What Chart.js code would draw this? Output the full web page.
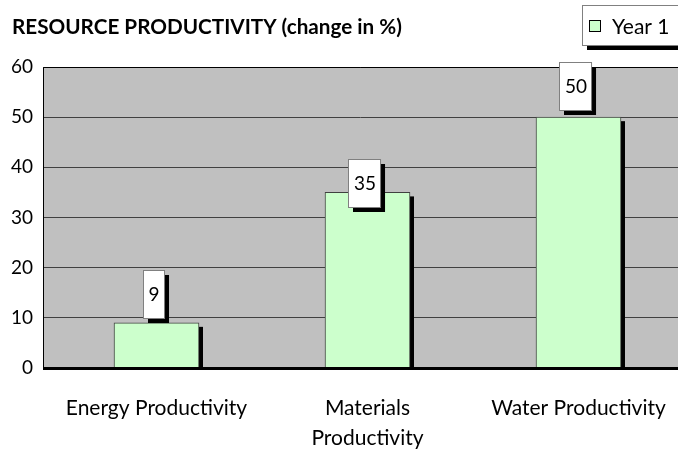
<!DOCTYPE html>
<html>
<head>
<meta charset="utf-8">
<script src="https://cdn.jsdelivr.net/npm/chart.js@4.4.1/dist/chart.umd.min.js"></script>
<style>
html,body{margin:0;padding:0;background:#fff;overflow:hidden;}
#wrap{width:678px;height:451px;position:relative;}
</style>
</head>
<body>
<div id="wrap"><canvas id="c" width="678" height="451"></canvas></div>
<script>
const title = "RESOURCE PRODUCTIVITY (change in %)";
const categories = ["Energy Productivity", ["Materials", "Productivity"], "Water Productivity"];
const seriesName = "Year 1";
const seriesValues = [9, 35, 50];
const yTicks = [0, 10, 20, 30, 40, 50, 60];

const FONT = "Lato, 'Open Sans', sans-serif";

const decor = {
  id: 'decor',
  beforeDraw(chart) {
    const {ctx, chartArea: a} = chart;
    ctx.save();
    ctx.fillStyle = '#c0c0c0';
    ctx.fillRect(a.left, a.top, a.right - a.left, a.bottom - a.top);
    ctx.restore();
  },
  beforeDatasetsDraw(chart) {
    const {ctx} = chart;
    const meta = chart.getDatasetMeta(0);
    ctx.save();
    ctx.fillStyle = '#000';
    meta.data.forEach(bar => {
      const p = bar.getProps(['x','y','base','width'], true);
      ctx.fillRect(p.x - p.width/2 + 4, p.y + 4, p.width, p.base - p.y - 4);
    });
    ctx.restore();
  },
  afterDatasetsDraw(chart) {
    const {ctx, chartArea: a} = chart;
    ctx.save();
    ctx.strokeStyle = '#000';
    ctx.lineWidth = 1;
    ctx.beginPath();
    ctx.moveTo(a.left + 0.5, a.bottom);
    ctx.lineTo(a.left + 0.5, a.top + 0.5);
    ctx.lineTo(a.right, a.top + 0.5);
    ctx.stroke();
    ctx.lineWidth = 3;
    ctx.beginPath();
    ctx.moveTo(a.left, a.bottom + 0.5);
    ctx.lineTo(a.right, a.bottom + 0.5);
    ctx.stroke();

    const meta = chart.getDatasetMeta(0);
    const offs = chart.options.plugins.decor.labelOffsets;
    ctx.font = "19px " + FONT;
    ctx.textAlign = 'center';
    ctx.textBaseline = 'middle';
    meta.data.forEach((bar, i) => {
      const p = bar.getProps(['x','y'], true);
      const txt = String(seriesValues[i]);
      const w = ctx.measureText(txt).width + 10;
      const h = 48;
      const cx = p.x - 3;
      const bottom = p.y - offs[i];
      const x0 = Math.round(cx - w/2), y0 = Math.round(bottom - h);
      ctx.fillStyle = '#000';
      ctx.fillRect(x0 + 5, y0 + 5, w, h);
      ctx.fillStyle = '#fff';
      ctx.fillRect(x0, y0, w, h);
      ctx.strokeStyle = '#808080';
      ctx.lineWidth = 1;
      ctx.strokeRect(x0 + 0.5, y0 + 0.5, w, h);
      ctx.fillStyle = '#000';
      ctx.fillText(txt, cx + 0.5, y0 + h/2 + 1);
    });

    ctx.textAlign = 'left';
    ctx.font = "bold 20.7px " + FONT;
    ctx.fillText(title, 12, 27);

    const lx = 582, ly = 5, lw = 110, lh = 40;
    ctx.fillStyle = '#000';
    ctx.fillRect(lx + 5, ly + 5, lw, lh);
    ctx.fillStyle = '#fff';
    ctx.fillRect(lx, ly, lw, lh);
    ctx.strokeStyle = '#808080';
    ctx.strokeRect(lx + 0.5, ly + 0.5, lw, lh);
    ctx.fillStyle = '#ccffcc';
    ctx.fillRect(589.5, 20.5, 11, 11);
    ctx.strokeStyle = '#000';
    ctx.strokeRect(589.5, 20.5, 11, 11);
    ctx.fillStyle = '#000';
    ctx.font = "21px " + FONT;
    ctx.fillText(seriesName, 612, 27);
    ctx.restore();
  }
};

new Chart(document.getElementById('c'), {
  type: 'bar',
  data: {
    datasets: [{
      label: seriesName,
      data: seriesValues.map((v, i) => ({x: i, y: v})),
      backgroundColor: '#ccffcc',
      borderColor: '#404040',
      borderWidth: 1,
      barThickness: 85
    }]
  },
  options: {
    responsive: false,
    animation: false,
    layout: {padding: {top: 67, right: 0, left: 0, bottom: 0}},
    plugins: {
      legend: {display: false},
      tooltip: {enabled: false},
      decor: {labelOffsets: [5, -15, 7]}
    },
    scales: {
      x: {
        type: 'linear',
        offset: false,
        min: -0.5379,
        max: 2.4716,
        afterBuildTicks: s => { s.ticks = categories.map((c, i) => ({value: i})); },
        afterFit: s => { s.height = 83; s.paddingLeft = 0; s.paddingRight = 0; },
        grid: {display: false, drawTicks: false, offset: false},
        border: {display: false},
        ticks: {
          callback: v => categories[v],
          color: '#000',
          font: {family: FONT, size: 21, lineHeight: 1.43},
          padding: 25,
          maxRotation: 0,
          autoSkip: false
        }
      },
      y: {
        min: 0,
        max: 60,
        afterBuildTicks: s => { s.ticks = yTicks.map(v => ({value: v})); },
        afterFit: s => { s.width = 43; s.paddingTop = 0; s.paddingBottom = 0; },
        grid: {color: '#404040', lineWidth: 1, drawTicks: false},
        border: {display: false},
        ticks: {
          color: '#000',
          font: {family: FONT, size: 19},
          padding: 10
        }
      }
    }
  },
  plugins: [decor]
});
</script>
</body>
</html>
